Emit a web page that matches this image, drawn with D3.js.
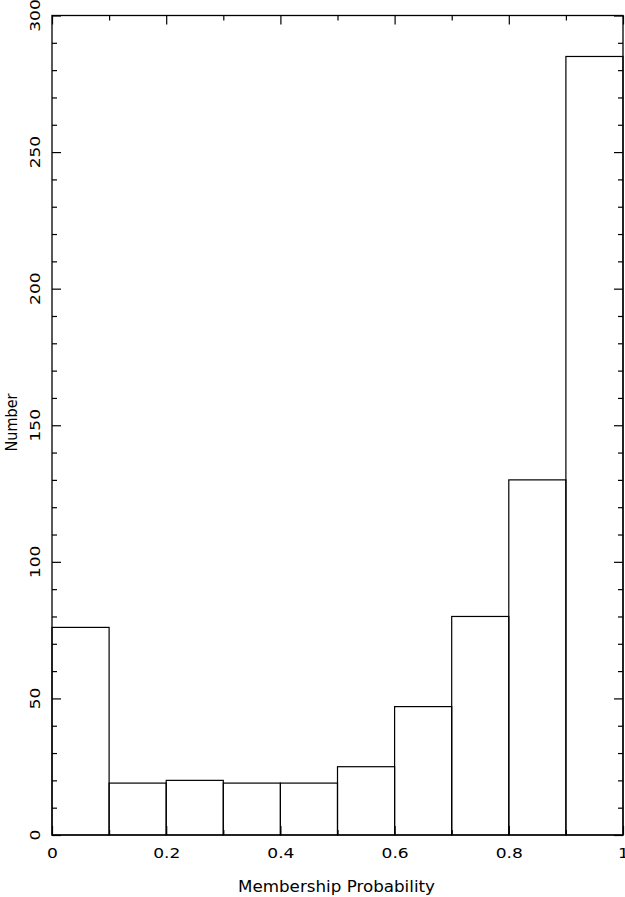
<!DOCTYPE html>
<html>
<head>
<meta charset="utf-8">
<script src="https://d3js.org/d3.v7.min.js"></script>
<style>
html,body{margin:0;padding:0;background:#fff;}
svg{display:block;}
text{font-family:"DejaVu Sans",sans-serif;fill:#000;}
</style>
</head>
<body>
<svg id="chart" width="625" height="897"></svg>
<script>
// Data
const binStarts = [0, 0.1, 0.2, 0.3, 0.4, 0.5, 0.6, 0.7, 0.8, 0.9];
const binWidth = 0.1;
const counts = [76, 19, 20, 19, 19, 25, 47, 80, 130, 285];
const xMajorTicks = [0, 0.2, 0.4, 0.6, 0.8, 1];
const xTickLabels = ["0", "0.2", "0.4", "0.6", "0.8", "1"];
const xMinorTicks = [0.1, 0.3, 0.5, 0.7, 0.9];
const yMajorTicks = [0, 50, 100, 150, 200, 250, 300];
const yMinorTicks = d3.range(0, 301, 10).filter(v => v % 50 !== 0);
const xLabel = "Membership Probability";
const yLabel = "Number";

const svg = d3.select("#chart");
const pLeft = 52, pRight = 623, pTop = 15.5, pBottom = 835;
const x = d3.scaleLinear().domain([0, 1]).range([pLeft, pRight]);
const y = d3.scaleLinear().domain([0, 300]).range([pBottom, pTop]);

// Bars
svg.append("g").selectAll("rect").data(binStarts).join("rect")
  .attr("x", d => x(d))
  .attr("y", (d, i) => y(counts[i]))
  .attr("width", d => x(d + binWidth) - x(d))
  .attr("height", (d, i) => y(0) - y(counts[i]))
  .attr("fill", "none")
  .attr("stroke", "#000")
  .attr("stroke-width", 1.2);

function styleAxis(g) {
  g.selectAll(".tick line").attr("stroke", "#000").attr("stroke-width", 1.2);
  g.select(".domain").remove();
}

// Bottom axis (major with labels)
const gb = svg.append("g").attr("transform", `translate(0,${pBottom})`)
  .call(d3.axisBottom(x).tickValues(xMajorTicks).tickSizeInner(-9).tickSizeOuter(0).tickPadding(13)
    .tickFormat((d, i) => xTickLabels[i]));
styleAxis(gb);
gb.selectAll("text")
  .attr("font-size", 14)
  .attr("font-family", "DejaVu Sans")
  .attr("fill", "#000")
  .attr("transform", "scale(1.22,1)");
svg.append("g").attr("transform", `translate(0,${pBottom})`)
  .call(d3.axisBottom(x).tickValues(xMinorTicks).tickSizeInner(-5).tickSizeOuter(0).tickFormat(""))
  .call(styleAxis);
// Top axis
svg.append("g").attr("transform", `translate(0,${pTop})`)
  .call(d3.axisTop(x).tickValues(xMajorTicks).tickSizeInner(-9).tickSizeOuter(0).tickFormat(""))
  .call(styleAxis);
svg.append("g").attr("transform", `translate(0,${pTop})`)
  .call(d3.axisTop(x).tickValues(xMinorTicks).tickSizeInner(-5).tickSizeOuter(0).tickFormat(""))
  .call(styleAxis);
// Left axis
svg.append("g").attr("transform", `translate(${pLeft},0)`)
  .call(d3.axisLeft(y).tickValues(yMajorTicks).tickSizeInner(-9).tickSizeOuter(0).tickFormat(""))
  .call(styleAxis);
svg.append("g").attr("transform", `translate(${pLeft},0)`)
  .call(d3.axisLeft(y).tickValues(yMinorTicks).tickSizeInner(-5).tickSizeOuter(0).tickFormat(""))
  .call(styleAxis);
// Right axis
svg.append("g").attr("transform", `translate(${pRight},0)`)
  .call(d3.axisRight(y).tickValues(yMajorTicks).tickSizeInner(-9).tickSizeOuter(0).tickFormat(""))
  .call(styleAxis);
svg.append("g").attr("transform", `translate(${pRight},0)`)
  .call(d3.axisRight(y).tickValues(yMinorTicks).tickSizeInner(-5).tickSizeOuter(0).tickFormat(""))
  .call(styleAxis);

// Y tick labels (rotated)
svg.append("g").selectAll("text").data(yMajorTicks).join("text")
  .attr("transform", d => `translate(39.5,${y(d)}) rotate(-90) scale(1.22,1)`)
  .attr("text-anchor", "middle")
  .attr("font-size", 14)
  .text(d => d);

// Frame
svg.append("rect")
  .attr("x", pLeft).attr("y", pTop)
  .attr("width", pRight - pLeft).attr("height", pBottom - pTop)
  .attr("fill", "none").attr("stroke", "#000").attr("stroke-width", 1.3);

// Axis titles
svg.append("text")
  .attr("x", (pLeft + pRight) / 2 - 1).attr("y", 892)
  .attr("text-anchor", "middle").attr("font-size", 15)
  .attr("textLength", 197).attr("lengthAdjust", "spacingAndGlyphs")
  .text(xLabel);
svg.append("text")
  .attr("transform", `translate(16.5,422.5) rotate(-90)`)
  .attr("text-anchor", "middle").attr("font-size", 15)
  .attr("textLength", 58).attr("lengthAdjust", "spacingAndGlyphs")
  .text(yLabel);
</script>
</body>
</html>
